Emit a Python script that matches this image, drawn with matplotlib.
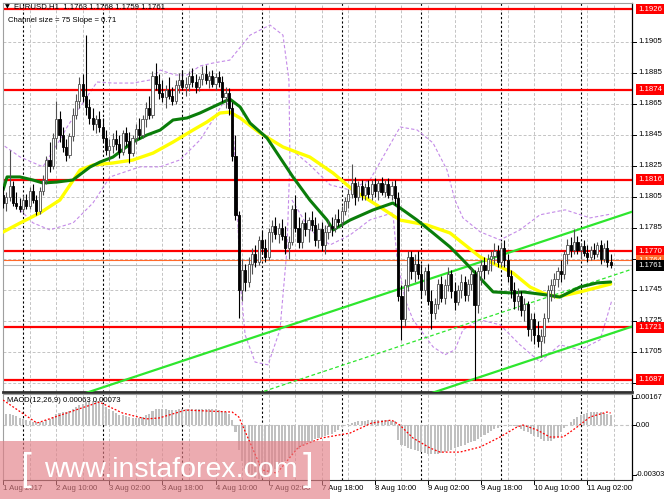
import matplotlib
matplotlib.use("Agg")
import matplotlib.pyplot as plt
import matplotlib.transforms as mtransforms
from matplotlib.patches import Rectangle

# ---------------- data ----------------
first_bar = -6   # bar index of first candle (0 = 2 Aug 00:00, H1 bars)
opens = [1.1806,1.1801,1.1805,1.1812,1.1801,1.1799,1.1797,1.1803,1.1799,1.1809,1.1803,1.1796,1.1809,1.1816,1.1829,1.1825,1.1843,1.1855,1.1845,1.1837,1.1832,1.1844,1.1858,1.1867,1.1878,1.1870,1.1863,1.1856,1.1852,1.1855,1.1850,1.1843,1.1835,1.1838,1.1842,1.1839,1.1834,1.1846,1.1841,1.1833,1.1843,1.1849,1.1845,1.1855,1.1862,1.1858,1.1883,1.1878,1.1872,1.1869,1.1874,1.1870,1.1867,1.1877,1.1880,1.1876,1.1878,1.1883,1.1879,1.1876,1.1881,1.1884,1.1880,1.1883,1.1878,1.1882,1.1879,1.1869,1.1872,1.1862,1.1831,1.1793,1.1745,1.1758,1.1750,1.1762,1.1768,1.1763,1.1777,1.1772,1.1766,1.1782,1.1786,1.1781,1.1785,1.1780,1.1772,1.1776,1.1797,1.1785,1.1776,1.1788,1.1784,1.1790,1.1787,1.1777,1.1784,1.1774,1.1782,1.1786,1.1785,1.1791,1.1789,1.1796,1.1802,1.1807,1.1814,1.1805,1.1812,1.1806,1.1811,1.1807,1.1813,1.1809,1.1814,1.1808,1.1813,1.1806,1.1812,1.1804,1.1741,1.1726,1.1748,1.1766,1.1757,1.1762,1.1755,1.1745,1.1757,1.1738,1.1730,1.1736,1.1749,1.1740,1.1748,1.1755,1.1744,1.1737,1.1745,1.1750,1.1742,1.1749,1.1755,1.1735,1.1757,1.1761,1.1758,1.1765,1.1767,1.1770,1.1763,1.1772,1.1764,1.1754,1.1745,1.1738,1.1741,1.1732,1.1736,1.1720,1.1726,1.1716,1.1712,1.1715,1.1727,1.1745,1.1748,1.1752,1.1757,1.1755,1.1768,1.1774,1.1771,1.1776,1.1771,1.1773,1.1769,1.1766,1.1771,1.1768,1.1774,1.1765,1.1772,1.1763]
highs = [1.1812,1.1808,1.1835,1.1815,1.1808,1.1804,1.1806,1.1807,1.1811,1.1813,1.1806,1.1811,1.1819,1.1831,1.1840,1.1846,1.1867,1.1860,1.1850,1.1842,1.1846,1.1862,1.1871,1.1882,1.1884,1.1909,1.1868,1.1862,1.1858,1.1860,1.1856,1.1848,1.1842,1.1846,1.1848,1.1845,1.1848,1.1850,1.1847,1.1845,1.1852,1.1856,1.1858,1.1866,1.1870,1.1886,1.1891,1.1884,1.1880,1.1877,1.1882,1.1876,1.1880,1.1885,1.1887,1.1882,1.1886,1.1888,1.1884,1.1883,1.1889,1.1890,1.1886,1.1887,1.1885,1.1886,1.1883,1.1876,1.1875,1.1866,1.1845,1.1796,1.1765,1.1762,1.1766,1.1772,1.1774,1.1780,1.1783,1.1778,1.1785,1.1790,1.1792,1.1788,1.1791,1.1786,1.1780,1.1800,1.1806,1.1792,1.1790,1.1795,1.1792,1.1796,1.1792,1.1788,1.1789,1.1787,1.1790,1.1792,1.1794,1.1797,1.1799,1.1805,1.1810,1.1826,1.1818,1.1815,1.1816,1.1814,1.1816,1.1816,1.1817,1.1816,1.1818,1.1816,1.1817,1.1815,1.1816,1.1808,1.1748,1.1752,1.1770,1.1770,1.1768,1.1770,1.1762,1.1760,1.1762,1.1745,1.1740,1.1752,1.1754,1.1752,1.1760,1.1758,1.1750,1.1748,1.1755,1.1754,1.1752,1.1760,1.1758,1.1760,1.1764,1.1766,1.1768,1.1770,1.1775,1.1774,1.1776,1.1777,1.1768,1.1758,1.1750,1.1746,1.1744,1.1740,1.1738,1.1730,1.1730,1.1725,1.1720,1.1730,1.1748,1.1752,1.1756,1.1760,1.1764,1.1770,1.1778,1.1779,1.1784,1.1780,1.1775,1.1777,1.1774,1.1773,1.1775,1.1776,1.1777,1.1775,1.1777,1.1768]
lows = [1.1798,1.1796,1.1802,1.1799,1.1797,1.1795,1.1795,1.1797,1.1797,1.1801,1.1793,1.1794,1.1806,1.1813,1.1821,1.1823,1.1836,1.1840,1.1834,1.1828,1.1830,1.1841,1.1855,1.1862,1.1866,1.1858,1.1852,1.1848,1.1846,1.1847,1.1840,1.1832,1.1828,1.1833,1.1835,1.1830,1.1832,1.1838,1.1827,1.1831,1.1839,1.1842,1.1843,1.1850,1.1855,1.1856,1.1874,1.1868,1.1866,1.1862,1.1868,1.1864,1.1865,1.1872,1.1874,1.1870,1.1873,1.1876,1.1872,1.1873,1.1877,1.1878,1.1875,1.1876,1.1874,1.1876,1.1866,1.1862,1.1858,1.1828,1.1790,1.1727,1.1738,1.1744,1.1747,1.1755,1.1760,1.1761,1.1768,1.1763,1.1764,1.1776,1.1778,1.1775,1.1777,1.1768,1.1765,1.1774,1.1782,1.1772,1.1772,1.1780,1.1776,1.1783,1.1773,1.1772,1.1770,1.1768,1.1778,1.1780,1.1782,1.1786,1.1786,1.1793,1.1798,1.1804,1.1800,1.1802,1.1803,1.1803,1.1804,1.1803,1.1805,1.1803,1.1806,1.1805,1.1804,1.1803,1.1800,1.1738,1.1713,1.1722,1.1744,1.1752,1.1750,1.1752,1.1740,1.1742,1.1735,1.1720,1.1726,1.1733,1.1737,1.1736,1.1744,1.1740,1.1732,1.1735,1.1740,1.1738,1.1738,1.1745,1.1687,1.1730,1.1748,1.1752,1.1755,1.1757,1.1762,1.1760,1.1760,1.1760,1.1750,1.1740,1.1733,1.1732,1.1728,1.1725,1.1715,1.1712,1.1710,1.1708,1.1702,1.1711,1.1724,1.1738,1.1740,1.1747,1.1750,1.1752,1.1762,1.1766,1.1768,1.1768,1.1765,1.1767,1.1763,1.1764,1.1765,1.1766,1.1762,1.1763,1.1760,1.1759]
closes = [1.1801,1.1805,1.1812,1.1801,1.1799,1.1797,1.1803,1.1799,1.1809,1.1803,1.1796,1.1809,1.1816,1.1829,1.1825,1.1843,1.1855,1.1845,1.1837,1.1832,1.1844,1.1858,1.1867,1.1878,1.1870,1.1863,1.1856,1.1852,1.1855,1.1850,1.1843,1.1835,1.1838,1.1842,1.1839,1.1834,1.1846,1.1841,1.1833,1.1843,1.1849,1.1845,1.1855,1.1862,1.1858,1.1883,1.1878,1.1872,1.1869,1.1874,1.1870,1.1867,1.1877,1.1880,1.1876,1.1878,1.1883,1.1879,1.1876,1.1881,1.1884,1.1880,1.1883,1.1878,1.1882,1.1879,1.1869,1.1872,1.1862,1.1831,1.1793,1.1745,1.1758,1.1750,1.1762,1.1768,1.1763,1.1777,1.1772,1.1766,1.1782,1.1786,1.1781,1.1785,1.1780,1.1772,1.1776,1.1797,1.1785,1.1776,1.1788,1.1784,1.1790,1.1787,1.1777,1.1784,1.1774,1.1782,1.1786,1.1785,1.1791,1.1789,1.1796,1.1802,1.1807,1.1814,1.1805,1.1812,1.1806,1.1811,1.1807,1.1813,1.1809,1.1814,1.1808,1.1813,1.1806,1.1812,1.1804,1.1741,1.1726,1.1748,1.1766,1.1757,1.1762,1.1755,1.1745,1.1757,1.1738,1.1730,1.1736,1.1749,1.1740,1.1748,1.1755,1.1744,1.1737,1.1745,1.1750,1.1742,1.1749,1.1755,1.1735,1.1757,1.1761,1.1758,1.1765,1.1767,1.1770,1.1763,1.1772,1.1764,1.1754,1.1745,1.1738,1.1741,1.1732,1.1736,1.1720,1.1726,1.1716,1.1712,1.1715,1.1727,1.1745,1.1748,1.1752,1.1757,1.1755,1.1768,1.1774,1.1771,1.1776,1.1771,1.1773,1.1769,1.1766,1.1771,1.1768,1.1774,1.1765,1.1772,1.1763,1.1761]

macd_hist = [0.00073,0.00070,0.00066,0.00060,0.00052,0.00045,
             0.00038,0.00030,0.00024,0.00020,0.00018,0.00017,0.00020,
             0.00028,0.00038,0.00050,0.00065,0.00075,0.00080,0.00082,0.00086,0.00095,0.00108,0.00120,
             0.00130,0.00140,0.00146,0.00148,0.00146,0.00140,0.00128,0.00112,
             0.00098,0.00086,0.00074,0.00064,0.00058,0.00052,0.00046,0.00042,0.00040,0.00042,0.00048,
             0.00058,0.00070,0.00085,0.00095,0.00098,0.00098,0.00096,
             0.00094,0.00092,0.00093,0.00095,0.00097,0.00098,0.00099,0.00100,0.00100,0.00099,0.00098,0.00098,0.00097,0.00096,0.00096,0.00094,0.00086,0.00080,
             0.00068,0.00030,-0.00040,
             -0.00150,-0.00220,-0.00265,-0.00295,-0.00315,-0.00325,-0.00328,-0.00322,-0.00310,-0.00295,-0.00280,
             -0.00265,-0.00250,-0.00235,-0.00220,-0.00200,-0.00180,-0.00160,-0.00145,-0.00130,-0.00118,-0.00105,
             -0.00095,-0.00088,-0.00080,-0.00073,-0.00066,-0.00060,-0.00055,-0.00045,-0.00030,-0.00015,
             -0.00002,0.00005,0.00015,0.00020,0.00022,0.00024,0.00026,0.00028,0.00030,0.00032,0.00032,0.00031,0.00030,0.00028,0.00026,0.00022,
             -0.00090,-0.00120,-0.00130,-0.00140,-0.00148,-0.00155,-0.00160,-0.00165,
             -0.00170,-0.00175,-0.00178,-0.00178,-0.00175,-0.00170,
             -0.00163,-0.00156,-0.00150,-0.00143,-0.00136,-0.00128,-0.00120,-0.00112,-0.00105,
             -0.00100,-0.00088,-0.00075,-0.00062,-0.00050,-0.00038,-0.00027,-0.00016,-0.00006,0.00002,
             0.00003,0.00001,-0.00005,-0.00012,
             -0.00025,-0.00035,-0.00045,-0.00055,-0.00065,-0.00075,-0.00085,-0.00095,-0.00100,-0.00098,-0.00088,-0.00070,-0.00045,
             -0.00020,0.00002,0.00020,
             0.00035,0.00048,0.00058,0.00066,0.00072,0.00077,0.00080,0.00080,0.00078,0.00074,0.00069,0.00063]

signal_bars = [-6, 4.2, 23, 30, 37, 41, 49, 63, 65, 72, 76.5, 83, 90, 98.5, 105, 111, 113.5, 117.5, 122.6, 125.6, 131.6, 137.7, 143.7, 148.8, 150.6, 154.8, 158.7, 162.7, 166.9, 170.8, 175.9, 177]
signal_vals = [0.00152, 0.00012, 0.00140, 0.00073, 0.00037, 0.00043, 0.00091, 0.00079, 0.00049, -0.00274, -0.00293, -0.00134, -0.00079, -0.00049, 0.00012, 0.00030, 0.0, -0.00080, -0.00140, -0.00165, -0.00165, -0.00134, -0.00073, -0.00012, 0.0, -0.00030, -0.00073, -0.00073, -0.00012, 0.00049, 0.00079, 0.00073]

ma_green_bars = [-6, -4.8, -0.9, 3, 6, 10.2, 15, 20.2, 23.2, 27.1, 33.1, 37.3, 41.3, 45.2, 49.4, 53.3, 57.2, 62.3, 65.4, 68.4, 73.5, 81.3, 86.4, 91.6, 93.4, 98.5, 105.4, 111.4, 113.6, 118.7, 123.5, 128.6, 132.5, 141.6, 147.6, 150.6, 157.8, 161.7, 167.8, 172.9, 177]
ma_green_vals = [1.18094, 1.18178, 1.18178, 1.18158, 1.18139, 1.18145, 1.18158, 1.18242, 1.18274, 1.18306, 1.18403, 1.18448, 1.18480, 1.18545, 1.18558, 1.18590, 1.18629, 1.18680, 1.18629, 1.18525, 1.18429, 1.18178, 1.18029, 1.17900, 1.17836, 1.17900, 1.17965, 1.18010, 1.17978, 1.17900, 1.17817, 1.17727, 1.17643, 1.17437, 1.17430, 1.17437, 1.17417, 1.17404, 1.17469, 1.17495, 1.17501]
ma_yellow_bars = [-6, -0.9, 5.1, 11.1, 17.2, 21.1, 27.1, 33.1, 39.2, 45.2, 51.2, 55.4, 59.3, 62.3, 65.4, 71.4, 78.3, 86.4, 93.4, 99.4, 107.5, 113.6, 121.7, 128.6, 137.7, 147.6, 152.7, 156.6, 160.8, 167.8, 177]
ma_yellow_vals = [1.17823, 1.17881, 1.17946, 1.18029, 1.18223, 1.18255, 1.18268, 1.18287, 1.18332, 1.18403, 1.18480, 1.18532, 1.18590, 1.18596, 1.18558, 1.18461, 1.18371, 1.18306, 1.18203, 1.18094, 1.17984, 1.17900, 1.17868, 1.17817, 1.17662, 1.17559, 1.17469, 1.17430, 1.17404, 1.17437, 1.17488]

# purple dashed band curves (bar position, price)
band1_bars = [-6.9, -0.9, 6.0, 11.1, 13.3, 17.2, 22.3, 27.1, 33.1, 38.3, 41.3, 45.8, 49.4, 53.3, 57.2, 62.3, 68.4, 74.4, 78.3, 80.1, 80.4, 79.5, 77.4, 73.8, 69.9, 66.9, 65.4, 64.2, 63.0]
band1_vals = [1.18397, 1.18307, 1.18243, 1.18416, 1.18500, 1.18629, 1.18790, 1.18783, 1.18783, 1.18803, 1.18867, 1.18835, 1.18835, 1.18893, 1.18912, 1.18931, 1.19092, 1.19157, 1.19092, 1.18803, 1.18288, 1.17708, 1.17193, 1.16967, 1.16985, 1.17160, 1.17515, 1.18159, 1.18610]
band2_bars = [-0.9, 3.0, 8.1, 15.1, 21.1, 26.2, 35.2, 41.3, 47.3, 53.3, 57.2, 60.8, 63.0]
band2_vals = [1.17966, 1.17882, 1.17837, 1.17882, 1.18011, 1.18178, 1.18243, 1.18243, 1.18288, 1.18416, 1.18545, 1.18674, 1.18610]
band3_bars = [81.0, 86.4, 92.5, 98.5, 104.5, 110.5, 113.6, 118.7, 123.5, 127.7, 130.1, 132.5, 137.7, 143.7, 149.7, 155.7, 163.3, 170.8, 177.4]
band3_vals = [1.18352, 1.18255, 1.18127, 1.18094, 1.18159, 1.18384, 1.18500, 1.18481, 1.18397, 1.18223, 1.18030, 1.17914, 1.17824, 1.17772, 1.17837, 1.17934, 1.17966, 1.17914, 1.17940]
band4_bars = [81.0, 86.4, 92.5, 98.5, 104.5, 111.4, 112.7, 115.1, 117.5, 123.5, 127.1, 130.1, 132.5, 137.7, 143.7, 149.7, 155.7, 161.7, 167.8, 173.8, 175.9, 177.4]
band4_vals = [1.18030, 1.17837, 1.17740, 1.17804, 1.17901, 1.17947, 1.17643, 1.17386, 1.17257, 1.17083, 1.17032, 1.17064, 1.17193, 1.17257, 1.17225, 1.17096, 1.16986, 1.17096, 1.17064, 1.17128, 1.17276, 1.17386]

levels = [1.1926, 1.1874, 1.1816, 1.1770, 1.1721, 1.1687]
bid_price = 1.1761
ask_price = 1.1764
price_ticks = [1.1685, 1.1705, 1.1725, 1.1745, 1.1765, 1.1785, 1.1805, 1.1825, 1.1845, 1.1865, 1.1885, 1.1905]
hidden_tick_labels = [1.1765]   # fully covered by the price boxes in the reference
macd_top, macd_bottom = 0.00167, -0.00303

chan_bar = 177
chan_mid = 1.17538
chan_slope = 0.000071
chan_half = 0.0037

time_label_bars = [-6, 10, 26, 42, 58, 74, 90, 106, 122, 138, 154, 170]
time_labels = ["1 Aug 2017", "2 Aug 10:00", "3 Aug 02:00", "3 Aug 18:00", "4 Aug 10:00", "7 Aug 02:00",
               "7 Aug 18:00", "8 Aug 10:00", "9 Aug 02:00", "9 Aug 18:00", "10 Aug 10:00", "11 Aug 02:00"]
day_sep_bars = [0, 24, 48, 72, 96, 120, 144, 168]
grid_bars = [2, 10, 18, 26, 34, 42, 50, 58, 66, 74, 82, 90, 98, 106, 114, 122, 130, 138, 146, 154, 162, 170, 178]

# ---------------- figure ----------------
W, H = 665, 499
fig = plt.figure(figsize=(W / 100, H / 100), dpi=100)
fig.patch.set_facecolor("white")
FONT = ["Liberation Sans", "DejaVu Sans"]
plt.rcParams["font.family"] = FONT
FS = 5.6

def fx(p):
    return p / W

def fy(p):
    return 1 - p / H

ax = fig.add_axes([fx(3), fy(392), (632 - 3) / W, (392 - 3) / H])
axm = fig.add_axes([fx(3), fy(480), (632 - 3) / W, (480 - 394) / H])

xl = (-6.02, 183.43)
for a in (ax, axm):
    a.set_xlim(*xl)
    a.set_facecolor("white")
    a.set_xticks([])
    a.set_yticks([])
    for s in ("left", "top"):
        a.spines[s].set_color("#a0a0a0")
        a.spines[s].set_linewidth(0.8)
    a.spines["right"].set_color("black")
    a.spines["bottom"].set_color("#303030")
    a.spines["right"].set_linewidth(0.9)
ax.spines["bottom"].set_linewidth(2.0)

ax.set_ylim(1.16792, 1.19299)
axm.set_ylim(-0.00335, 0.00189)

GRID = "#c4c4c4"
for p in price_ticks:
    ax.axhline(p, color=GRID, lw=0.7, ls=(0, (3, 2)), zorder=0)
for b in grid_bars:
    ax.axvline(b, color=GRID, lw=0.7, ls=(0, (3, 2)), zorder=0)
    axm.axvline(b, color=GRID, lw=0.7, ls=(0, (3, 2)), zorder=0)
for b in day_sep_bars:
    ax.axvline(b, color="black", lw=0.8, ls=(0, (2, 2)), zorder=0.5)
    axm.axvline(b, color="black", lw=0.8, ls=(0, (2, 2)), zorder=0.5)

# purple dashed bands
PURPLE = "#c48ae8"
for bx, bv in ((band1_bars, band1_vals), (band2_bars, band2_vals), (band3_bars, band3_vals), (band4_bars, band4_vals)):
    ax.plot(bx, bv, color=PURPLE, lw=0.8, ls=(0, (3, 2)), zorder=1)

# level lines
for lv in levels:
    ax.axhline(lv, color="#ff0000", lw=1.6, zorder=2)
ax.axhline(ask_price, color="#ff6a2a", lw=0.8, zorder=2)
ax.axhline(bid_price, color="#b8b8b8", lw=0.8, zorder=2)

# channel lines
xs = [xl[0], xl[1]]
for off, style, lw in ((chan_half, "-", 1.6), (0.0, (0, (3, 2)), 0.9), (-chan_half, "-", 1.6)):
    ys = [chan_mid + off + chan_slope * (x - chan_bar) for x in xs]
    ax.plot(xs, ys, color="#2ee62e", lw=lw, ls=style, zorder=3)

# moving averages
ax.plot(ma_yellow_bars, ma_yellow_vals, color="#ffff00", lw=2.4, zorder=4, solid_capstyle="round")
ax.plot(ma_green_bars, ma_green_vals, color="#0a7d0a", lw=2.2, zorder=4.5, solid_capstyle="round")

# candles
n = len(closes)
bars = [first_bar + k for k in range(n)]
for k in range(n):
    o, h, l, c = opens[k], highs[k], lows[k], closes[k]
    x = bars[k]
    bull = c >= o
    col = "#505050" if bull else "black"
    ax.vlines(x, l, h, color=col, lw=0.8, zorder=5)
    bot = min(o, c)
    hgt = max(abs(c - o), 0.00003)
    ax.add_patch(Rectangle((x - 0.32, bot), 0.64, hgt, facecolor="white" if bull else "black",
                           edgecolor=col, lw=0.6, zorder=6))

# MACD panel
axm.axhline(0, color=GRID, lw=0.8, ls=(0, (3, 2)), zorder=0)
axm.bar(bars, macd_hist, width=0.62, color="#c0c0c0", edgecolor="none", zorder=2)
axm.plot(signal_bars, signal_vals, color="#ff0000", lw=0.9, ls=(0, (1.5, 1.5)), zorder=3)

# ------------- right-hand price scale -------------
tr = mtransforms.blended_transform_factory(ax.transAxes, ax.transData)
for p in price_ticks:
    ax.plot([1.0, 1.006], [p, p], transform=tr, color="black", lw=0.7, clip_on=False)
    if p in hidden_tick_labels:
        continue
    ax.text(1.010, p, f"{p:.4f}", transform=tr, fontsize=FS, va="center", ha="left", color="black")

def price_box(p, fc, tc="white", z=10):
    ax.text(1.010, p, f"{p:.4f}", transform=tr, fontsize=FS, va="center", ha="left", color=tc, zorder=z,
            bbox=dict(boxstyle="square,pad=0.25", fc=fc, ec="none"))

for lv in levels:
    price_box(lv, "#ff0000")
price_box(ask_price, "#ff6a2a", z=10)
price_box(bid_price, "black", z=11)

trm = mtransforms.blended_transform_factory(axm.transAxes, axm.transData)
for v, s in ((macd_top, "0.00167"), (0.0, "0.00"), (macd_bottom, "-0.00303")):
    axm.text(1.006, v, s, transform=trm, fontsize=5.3, va="center", ha="left", color="black")
    axm.plot([1.0, 1.006], [v, v], transform=trm, color="black", lw=0.7, clip_on=False)

# ------------- time axis -------------
trt = mtransforms.blended_transform_factory(axm.transData, fig.transFigure)
for b, s in zip(time_label_bars, time_labels):
    axm.plot([b, b], [fy(480), fy(484)], transform=trt, color="black", lw=0.7, clip_on=False)
    axm.text(b, fy(489), s, transform=trt, fontsize=FS, ha="left", va="center", color="black")

# ------------- header texts -------------
fig.text(fx(5), fy(7), "\u25bc", fontsize=4.5, color="black", va="center", ha="left", family=["DejaVu Sans"])
fig.text(fx(14), fy(7), "EURUSD,H1  1.1763 1.1768 1.1759 1.1761", fontsize=FS, color="black", va="center", ha="left")
fig.text(fx(8), fy(20), "Channel size = 75 Slope = 0.71", fontsize=FS, color="black", va="center", ha="left")
fig.text(fx(7), fy(401), "MACD(12,26,9) 0.00063 0.00073", fontsize=FS, color="black", va="center", ha="left")

# ------------- watermark -------------
fig.patches.append(Rectangle((0, fy(499)), fx(330), (499 - 441) / H, transform=fig.transFigure,
                             facecolor="#e27f86", alpha=0.65, edgecolor="none", zorder=20))
fig.text(fx(44), fy(470), "www.instaforex.com", fontsize=20.5, color="white", va="center", ha="left", zorder=21)
fig.text(fx(20), fy(470), "[", fontsize=28, color="white", va="center", ha="left", zorder=21)
fig.text(fx(303), fy(470), "]", fontsize=28, color="white", va="center", ha="left", zorder=21)

fig.savefig("out.png", dpi=100, facecolor="white")
